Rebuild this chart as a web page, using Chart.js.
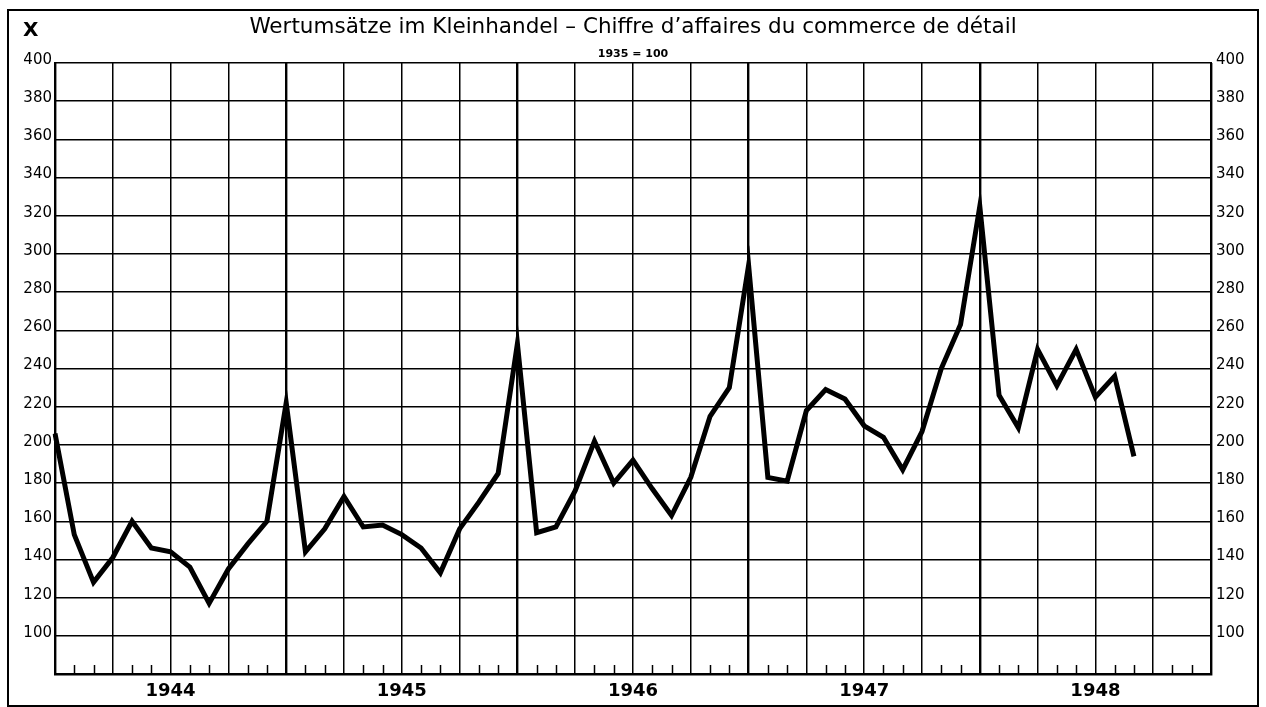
<!DOCTYPE html>
<html>
<head>
<meta charset="utf-8">
<script src="https://cdn.jsdelivr.net/npm/chart.js@4"></script>
<style>
  html, body { margin: 0; padding: 0; background: #fff; }
  #wrap { position: absolute; left: 0; top: 0; width: 1266px; height: 707px; }
  #frame { position: absolute; left: 7px; top: 9px; width: 1252px; height: 698px;
           box-sizing: border-box; border: 2px solid #000; pointer-events: none; }
</style>
</head>
<body>
<div id="wrap"><canvas id="chart-retail"></canvas></div>
<div id="frame"></div>
<script>
// Data
const years = ['1944', '1945', '1946', '1947', '1948'];
const monthNames = ['I','II','III','IV','V','VI','VII','VIII','IX','X','XI','XII'];

// month-end positions, first one is end of Dec 1943
const months = ['XII 1943'];
years.forEach(y => monthNames.forEach(m => months.push(m + ' ' + y)));

// Wertumsätze, 1935 = 100
const retailIndex = [
  206, 153, 128, 141, 160, 146, 144, 136, 117, 135, 148, 160,
  222, 144, 156, 173, 157, 158, 153, 146, 133, 156, 170, 185,
  253, 154, 157, 176, 202, 180, 192, 177, 163, 183, 215, 230,
  294, 183, 181, 218, 229, 224, 210, 204, 187, 207, 240, 263,
  325, 226, 209, 250, 231, 250, 225, 236, 194
];

const yMin = 80, yMax = 400, yStep = 20;

Chart.defaults.font.family = "'DejaVu Sans', sans-serif";
Chart.defaults.color = '#000';

// small month marks standing on the base line
const monthTicks = {
  id: 'monthTicks',
  beforeDatasetsDraw(chart) {
    const {ctx, chartArea} = chart;
    const x = chart.scales.x;
    ctx.save();
    ctx.strokeStyle = '#000';
    ctx.lineWidth = 1.5;
    for (let i = 0; i < months.length; i++) {
      if (i % 3 === 0) continue;
      const px = Math.round(x.getPixelForTick(i)) + 0.5;
      ctx.beginPath();
      ctx.moveTo(px, chartArea.bottom);
      ctx.lineTo(px, chartArea.bottom - 9);
      ctx.stroke();
    }
    ctx.restore();
  }
};

// the "X" in the top left corner
const cornerMark = {
  id: 'cornerMark',
  afterDraw(chart) {
    const ctx = chart.ctx;
    ctx.save();
    ctx.font = "bold 20px 'DejaVu Sans', sans-serif";
    ctx.fillStyle = '#000';
    ctx.textBaseline = 'middle';
    ctx.fillText('X', 23, 31);
    ctx.restore();
  }
};

const yTickLabel = v => (v === yMin ? '' : v);

!function(){
  const ctx = document.getElementById('chart-retail');

  new Chart(ctx, {
    type: 'line',
    data: {
      labels: months,
      datasets: [{
        label: 'Wertumsätze',
        data: retailIndex,
        borderColor: '#000',
        borderWidth: 5,
        borderJoinStyle: 'miter',
        pointRadius: 0,
        tension: 0,
        yAxisID: 'y'
      }]
    },
    options: {
      responsive: true,
      maintainAspectRatio: false,
      animation: false,
      layout: {
        padding: { top: 10, left: 8, right: 8, bottom: 4 }
      },
      scales: {
        x: {
          type: 'category',
          offset: false,
          grid: {
            color: c => (c.index % 3 === 0 ? '#000' : 'rgba(0,0,0,0)'),
            lineWidth: c => (c.index % 12 === 0 ? 2.4 : 1.5),
            drawTicks: false
          },
          border: { display: true, color: '#000', width: 2.5 },
          ticks: {
            autoSkip: false,
            maxRotation: 0,
            minRotation: 0,
            padding: 7,
            font: { size: 18, weight: 'bold' },
            callback: function(val) {
              const lab = this.getLabelForValue(val);
              return lab.startsWith('VI ') ? lab.slice(3) : '';
            }
          },
          afterFit: s => { s.height = 29; }
        },
        y: {
          position: 'left',
          min: yMin,
          max: yMax,
          grid: { color: '#000', lineWidth: 1.5, drawTicks: false },
          border: { display: true, color: '#000', width: 2 },
          ticks: {
            stepSize: yStep,
            padding: 3,
            labelOffset: -3,
            font: { size: 15 },
            callback: yTickLabel
          },
          afterFit: s => { s.width = 47; }
        },
        y2: {
          position: 'right',
          min: yMin,
          max: yMax,
          grid: { drawOnChartArea: false, drawTicks: false },
          border: { display: true, color: '#000', width: 2 },
          ticks: {
            stepSize: yStep,
            padding: 5,
            labelOffset: -3,
            font: { size: 15 },
            callback: yTickLabel
          },
          afterFit: s => { s.width = 47; }
        }
      },
      plugins: {
        legend: { display: false },
        tooltip: { enabled: false },
        title: {
          display: true,
          text: 'Wertumsätze im Kleinhandel – Chiffre d’affaires du commerce de détail',
          font: { size: 21.5, weight: 'normal' },
          padding: { top: 5, bottom: 3 }
        },
        subtitle: {
          display: true,
          text: '1935 = 100',
          font: { size: 11, weight: 'bold' },
          padding: { top: 4, bottom: 2 }
        }
      }
    },
    plugins: [monthTicks, cornerMark]
  });
}();
</script>
</body>
</html>
